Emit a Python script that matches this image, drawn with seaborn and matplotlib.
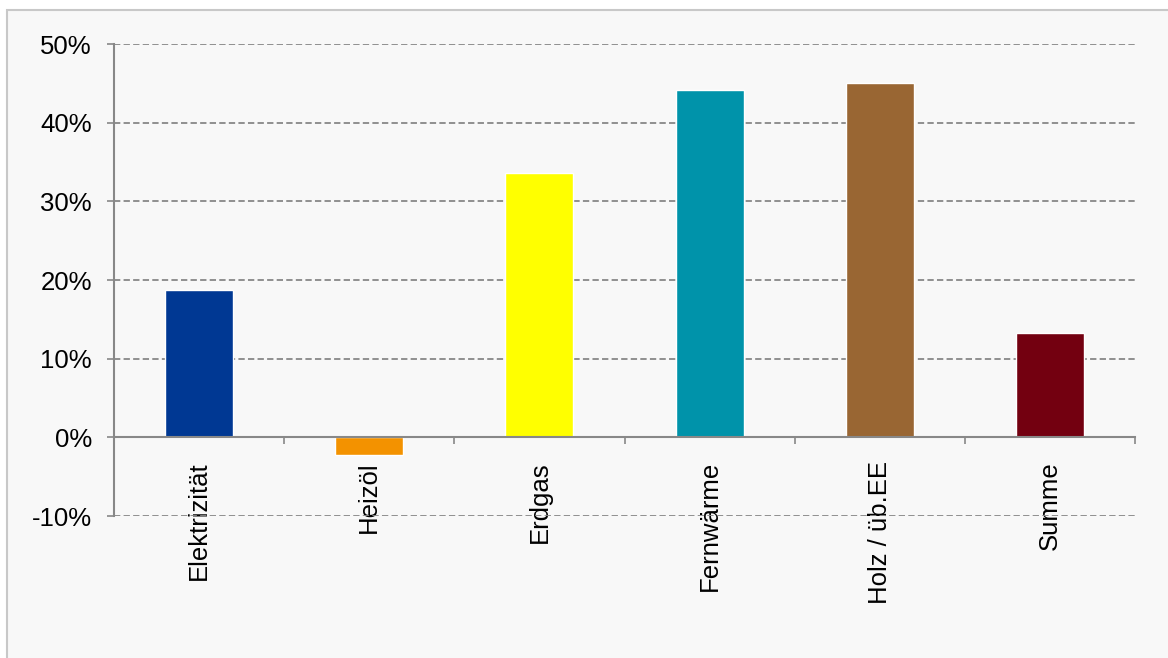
import matplotlib
matplotlib.use("Agg")
import matplotlib.pyplot as plt
import seaborn as sns
import pandas as pd
from matplotlib.patches import Rectangle
from matplotlib.ticker import FuncFormatter, FixedLocator

categories = ["Elektrizität", "Heizöl", "Erdgas", "Fernwärme", "Holz / üb.EE", "Summe"]
values = [18.7, -2.3, 33.6, 44.1, 45.1, 13.3]
colors = ["#003893", "#f39200", "#ffff00", "#0093aa", "#996633", "#730010"]
yticks = [-10, 0, 10, 20, 30, 40, 50]

sns.set_theme(style="white")
plt.rcParams['font.family'] = ['Liberation Sans', 'DejaVu Sans']

df = pd.DataFrame({"cat": categories, "val": values})

fig = plt.figure(figsize=(11.68, 6.58), dpi=100, facecolor="white")
bg = Rectangle((7/1168, -0.05), 1.2, 1.05 - 10/658, transform=fig.transFigure,
               facecolor="#f8f8f8", edgecolor="#c8c8c8", linewidth=1.5, zorder=-10)
fig.add_artist(bg)

ax = fig.add_axes([114/1168, 1 - 516/658, (1135 - 114)/1168, (516 - 44)/658])
ax.set_facecolor("none")
ax.set_zorder(5)

sns.barplot(data=df, x="cat", y="val", hue="cat", palette=colors, legend=False,
            width=0.4, saturation=1, ax=ax, zorder=3)

ax.set_xlim(-0.5, 5.5)
ax.set_ylim(-10, 50)
ax.set_yticks(yticks)
ax.yaxis.set_major_formatter(FuncFormatter(lambda v, p: f"{int(v)}%"))
ax.set_xlabel("")
ax.set_ylabel("")

for s in ["top", "right"]:
    ax.spines[s].set_visible(False)
ax.spines["bottom"].set_position(("data", 0))
ax.spines["bottom"].set_color("#888888")
ax.spines["left"].set_color("#888888")
ax.spines["bottom"].set_linewidth(1.5)
ax.spines["left"].set_linewidth(1.5)
ax.spines["bottom"].set_zorder(4)

ax.yaxis.grid(True, color="#888888", linestyle=(0, (3.5, 1.8)), linewidth=1.3)
ax.set_axisbelow(True)

ax.tick_params(axis="y", which="major", direction="out", length=5, width=1.2,
               color="#888888", pad=11, labelsize=18.5, labelcolor="black", left=True)
ax.set_xticks(range(len(categories)))
ax.set_xticklabels(categories, rotation=90, ha="center", va="top")
ax.tick_params(axis="x", which="major", length=0, pad=17, labelsize=18.5, labelcolor="black")
ax.xaxis.set_minor_locator(FixedLocator([i - 0.5 for i in range(len(categories) + 1)]))
ax.tick_params(axis="x", which="minor", direction="out", length=5, width=1.2,
               color="#888888", bottom=True)

fig.savefig("out.png", dpi=100, facecolor="white")
